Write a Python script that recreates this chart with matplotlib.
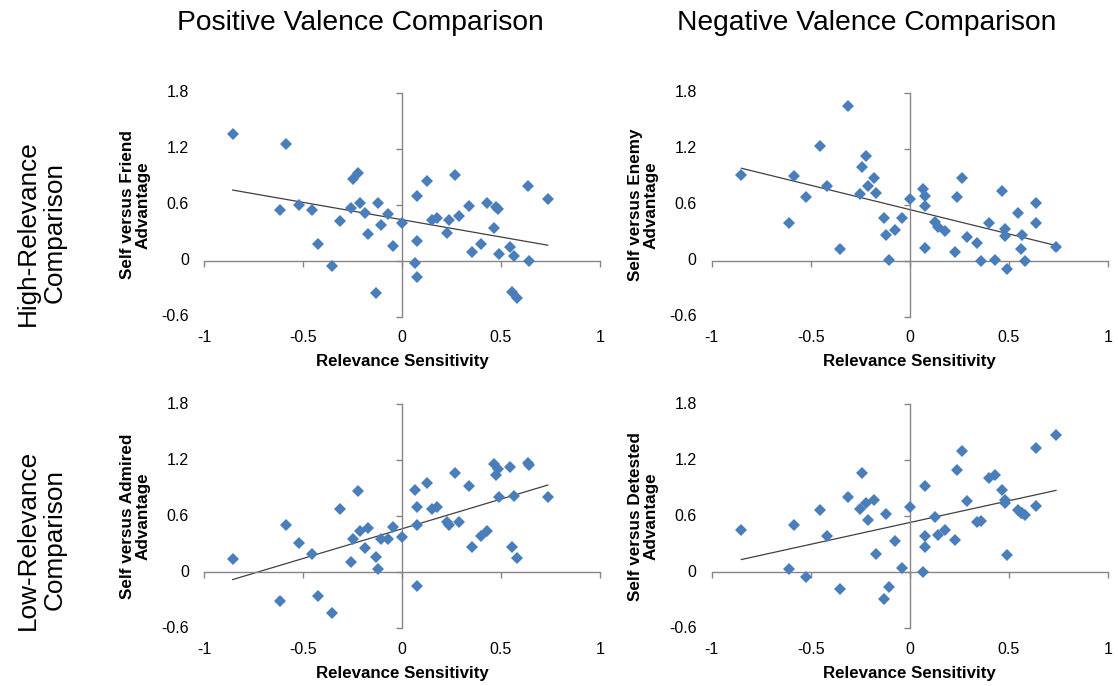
import numpy as np
import matplotlib
matplotlib.use("Agg")
import matplotlib.pyplot as plt

plt.rcParams['font.family'] = ['Liberation Sans', 'DejaVu Sans']

# relevance sensitivity (x) for positive / negative valence comparisons
x_pos = [-0.855, -0.614, -0.586, -0.522, -0.455, -0.423, -0.354, -0.315, -0.256, -0.246,
         -0.222, -0.212, -0.185, -0.173, -0.131, -0.123, -0.104, -0.071, -0.044, -0.002,
         0.066, 0.074, 0.074, 0.076, 0.128, 0.150, 0.178, 0.226, 0.236, 0.266,
         0.288, 0.337, 0.355, 0.397, 0.428, 0.463, 0.475, 0.483, 0.488, 0.545,
         0.556, 0.567, 0.579, 0.638, 0.640, 0.736]
x_neg = [-0.850, -0.609, -0.584, -0.524, -0.453, -0.419, -0.352, -0.311, -0.253, -0.241,
         -0.221, -0.210, -0.180, -0.170, -0.130, -0.121, -0.103, -0.072, -0.040, 0.000,
         0.067, 0.077, 0.077, 0.079, 0.126, 0.143, 0.180, 0.229, 0.241, 0.266,
         0.290, 0.342, 0.360, 0.399, 0.433, 0.468, 0.480, 0.480, 0.490, 0.549,
         0.561, 0.569, 0.581, 0.636, 0.636, 0.739]

# advantage scores
friend = [1.354, 0.539, 1.254, 0.600, 0.546, 0.182, -0.054, 0.421, 0.564, 0.875,
          0.943, 0.618, 0.511, 0.286, -0.343, 0.621, 0.382, 0.500, 0.154, 0.407,
          -0.029, -0.171, 0.214, 0.689, 0.857, 0.439, 0.461, 0.300, 0.439, 0.918,
          0.479, 0.586, 0.093, 0.179, 0.618, 0.350, 0.571, 0.557, 0.071, 0.150,
          -0.339, 0.046, -0.396, 0.796, -0.004, 0.657]
admired = [0.139, -0.303, 0.506, 0.317, 0.196, -0.250, -0.435, 0.681, 0.107, 0.357,
           0.866, 0.446, 0.257, 0.474, 0.160, 0.039, 0.357, 0.357, 0.481, 0.381,
           0.884, -0.143, 0.503, 0.695, 0.959, 0.677, 0.695, 0.535, 0.510, 1.062,
           0.542, 0.930, 0.271, 0.392, 0.446, 1.159, 1.045, 1.112, 0.802, 1.123,
           0.275, 0.820, 0.153, 1.166, 1.150, 0.809]
enemy = [0.921, 0.407, 0.907, 0.686, 1.225, 0.796, 0.129, 1.654, 0.718, 1.004,
         1.118, 0.800, 0.886, 0.721, 0.457, 0.271, 0.004, 0.332, 0.457, 0.664,
         0.771, 0.689, 0.586, 0.136, 0.418, 0.361, 0.321, 0.096, 0.679, 0.886,
         0.250, 0.193, -0.004, 0.407, 0.004, 0.746, 0.336, 0.264, -0.089, 0.514,
         0.121, 0.279, -0.004, 0.618, 0.407, 0.146]
detested = [0.449, 0.036, 0.510, -0.050, 0.667, 0.392, -0.175, 0.802, 0.681, 1.062,
            0.742, 0.560, 0.777, 0.196, -0.285, 0.627, -0.157, 0.339, 0.050, 0.695,
            0.004, 0.927, 0.385, 0.267, 0.592, 0.403, 0.456, 0.342, 1.091, 1.305,
            0.759, 0.538, 0.545, 1.009, 1.041, 0.884, 0.770, 0.742, 0.182, 0.663,
            0.635, 0.635, 0.617, 1.337, 0.713, 1.472]

x_ticks = [-1, -0.5, 0, 0.5, 1]
x_tick_labels = ['-1', '-0.5', '0', '0.5', '1']
y_ticks = [-0.6, 0, 0.6, 1.2, 1.8]
y_tick_labels = ['-0.6', '0', '0.6', '1.2', '1.8']

BLUE = '#4A7EBB'
AXIS_GRAY = '#868686'

panels = [
    (x_pos, friend, 'Self versus Friend\nAdvantage', [204, 92.7]),
    (x_neg, enemy, 'Self versus Enemy\nAdvantage', [711.7, 92.7]),
    (x_pos, admired, 'Self versus Admired\nAdvantage', [204, 404.3]),
    (x_neg, detested, 'Self versus Detested\nAdvantage', [711.7, 404.3]),
]

W, H = 1118, 686
fig = plt.figure(figsize=(W / 100, H / 100), dpi=100)

for xs, ys, ylab, (left_px, top_px) in panels:
    aw, ah = 396, 224
    ax = fig.add_axes([left_px / W, 1 - (top_px + ah) / H, aw / W, ah / H])
    ax.set_xlim(-1, 1)
    ax.set_ylim(-0.6, 1.8)

    # excel style axes crossing at zero
    for side in ['top', 'right']:
        ax.spines[side].set_visible(False)
    ax.spines['left'].set_position(('data', 0))
    ax.spines['bottom'].set_position(('data', 0))
    for side in ['left', 'bottom']:
        ax.spines[side].set_color(AXIS_GRAY)
        ax.spines[side].set_linewidth(1.0)
    ax.set_xticks(x_ticks)
    ax.set_yticks(y_ticks)
    ax.tick_params(direction='out', length=4, color=AXIS_GRAY, width=1.0,
                   labelleft=False, labelbottom=False)

    # tick labels sit at the low edge, as in excel
    for v, s in zip(y_ticks, y_tick_labels):
        ax.text(-0.038, v, s, transform=ax.get_yaxis_transform(),
                ha='right', va='center', fontsize=11.5)
    for v, s in zip(x_ticks, x_tick_labels):
        ax.text(v, -0.095, s, transform=ax.get_xaxis_transform(),
                ha='center', va='center', fontsize=11.5)

    ax.text(-0.173, 0.5, ylab, transform=ax.transAxes, rotation=90,
            ha='center', va='center', fontsize=12.3, fontweight='bold',
            linespacing=1.05)
    ax.text(0.5, -0.2, 'Relevance Sensitivity', transform=ax.transAxes,
            ha='center', va='center', fontsize=12.2, fontweight='bold')

    ax.plot(xs, ys, linestyle='none', marker='D', markersize=6.3,
            color=BLUE, markeredgewidth=0, zorder=3)

    slope, icept = np.polyfit(xs, ys, 1)
    xx = np.array([min(xs), max(xs)])
    ax.plot(xx, slope * xx + icept, color='#404040', linewidth=0.9, zorder=2)

fig.text(360 / W, 1 - 23 / H, 'Positive Valence Comparison', ha='center',
         va='center', fontsize=20.3)
fig.text(867 / W, 1 - 23 / H, 'Negative Valence Comparison', ha='center',
         va='center', fontsize=20.3)
fig.text(41 / W, 1 - 233 / H, 'High-Relevance\nComparison', ha='center',
         va='center', rotation=90, fontsize=18.8, linespacing=1.15)
fig.text(41 / W, 1 - 540 / H, 'Low-Relevance\nComparison', ha='center',
         va='center', rotation=90, fontsize=18.8, linespacing=1.15)

fig.savefig('out.png', dpi=100)
